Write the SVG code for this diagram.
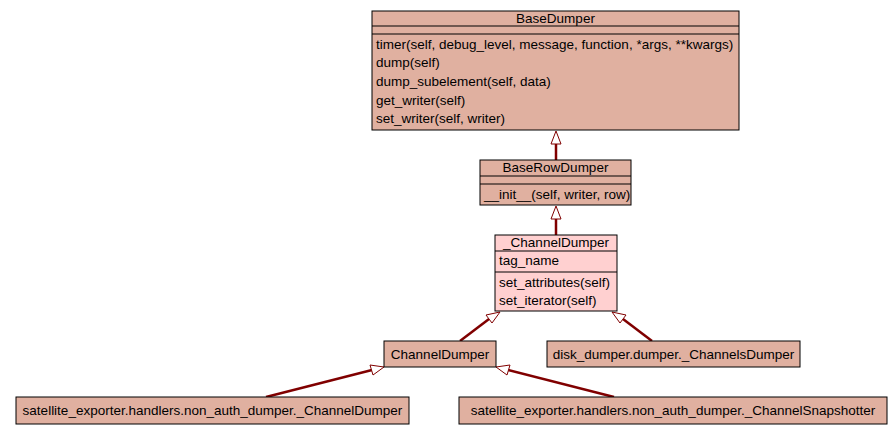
<svg xmlns="http://www.w3.org/2000/svg" width="893" height="435" viewBox="0 0 893 435">
<style>
.box{fill:#e0b0a0;stroke:#000000;stroke-width:1}
.boxp{fill:#ffd0d0;stroke:#000000;stroke-width:1}
.sep{stroke:#000000;stroke-width:1}
text{font-family:"Liberation Sans",Arial,sans-serif;font-size:13.5px;fill:#000000}
.c{text-anchor:middle}
.e{stroke:#800000;stroke-width:2.5;fill:none}
.ah{fill:#ffffff;stroke:#800000;stroke-width:1}
</style>
<rect width="893" height="435" fill="#ffffff"/>
<g id="connectors">
<line class="e" x1="556" y1="160" x2="556" y2="144"/>
<polygon class="ah" points="556,131 551,144 561,144"/>
<line class="e" x1="556" y1="235" x2="556" y2="219"/>
<polygon class="ah" points="556,206 551,219 561,219"/>
<line class="e" x1="460" y1="341" x2="489" y2="319"/>
<polygon class="ah" points="500,312 486,315 492,323"/>
<line class="e" x1="652" y1="341" x2="623" y2="319"/>
<polygon class="ah" points="612,312 620,323 626,315"/>
<line class="e" x1="266" y1="397" x2="372" y2="370"/>
<polygon class="ah" points="384,367 370,365 373,375"/>
<line class="e" x1="614" y1="397" x2="508" y2="370"/>
<polygon class="ah" points="496,367 507,375 510,365"/>
</g>
<g id="BaseDumper">
<rect class="box" x="372" y="11" width="367" height="119"/>
<line class="sep" x1="372" y1="26" x2="739" y2="26"/>
<line class="sep" x1="372" y1="34" x2="739" y2="34"/>
<text class="c" x="555.5" y="22.5">BaseDumper</text>
<text x="376" y="49">timer(self, debug_level, message, function, *args, **kwargs)</text>
<text x="376" y="67">dump(self)</text>
<text x="376" y="86">dump_subelement(self, data)</text>
<text x="376" y="105">get_writer(self)</text>
<text x="376" y="123">set_writer(self, writer)</text>
</g>
<g id="BaseRowDumper">
<rect class="box" x="480" y="160" width="151" height="45"/>
<line class="sep" x1="480" y1="176" x2="631" y2="176"/>
<line class="sep" x1="480" y1="184" x2="631" y2="184"/>
<text class="c" x="555.5" y="171.5">BaseRowDumper</text>
<text x="484" y="199">__init__(self, writer, row)</text>
</g>
<g id="_ChannelDumper">
<rect class="boxp" x="495" y="235" width="122" height="76"/>
<line class="sep" x1="495" y1="251" x2="617" y2="251"/>
<line class="sep" x1="495" y1="272" x2="617" y2="272"/>
<text class="c" x="556" y="246.5">_ChannelDumper</text>
<text x="499" y="265">tag_name</text>
<text x="499" y="287">set_attributes(self)</text>
<text x="499" y="305">set_iterator(self)</text>
</g>
<g id="ChannelDumper">
<rect class="box" x="384" y="341" width="112" height="26"/>
<text class="c" x="440" y="358.5">ChannelDumper</text>
</g>
<g id="disk_dumper">
<rect class="box" x="547" y="341" width="253" height="26"/>
<text class="c" x="673.5" y="358.5">disk_dumper.dumper._ChannelsDumper</text>
</g>
<g id="sat_ChannelDumper">
<rect class="box" x="16" y="397" width="393" height="27"/>
<text class="c" x="212.5" y="415">satellite_exporter.handlers.non_auth_dumper._ChannelDumper</text>
</g>
<g id="sat_ChannelSnapshotter">
<rect class="box" x="459" y="397" width="428" height="27"/>
<text class="c" x="673" y="415">satellite_exporter.handlers.non_auth_dumper._ChannelSnapshotter</text>
</g>
</svg>
